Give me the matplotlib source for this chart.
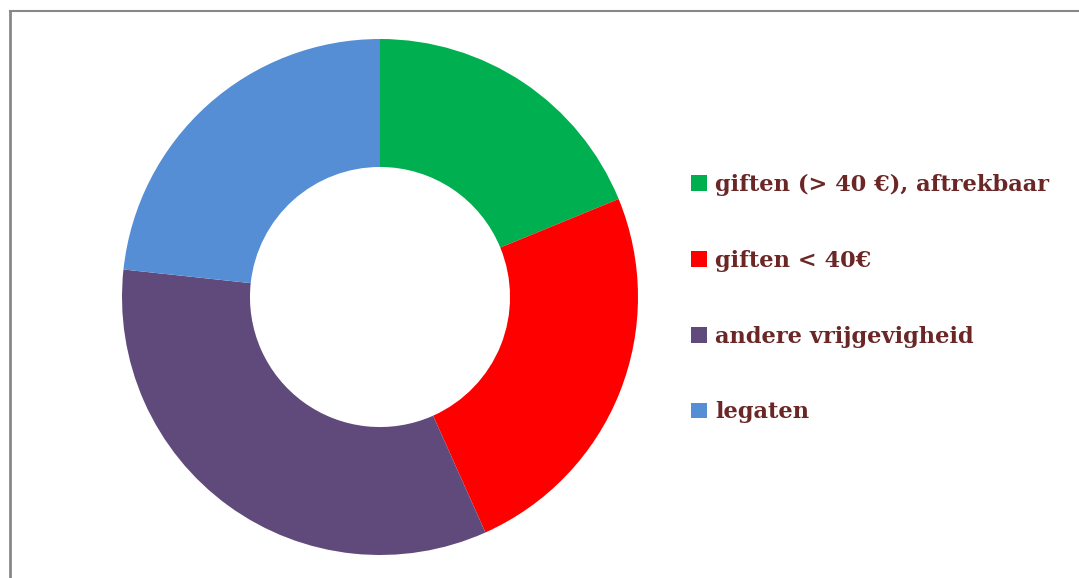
import matplotlib
matplotlib.use("Agg")
import matplotlib.pyplot as plt
from matplotlib.lines import Line2D

labels = ["giften (> 40 €), aftrekbaar", "giften < 40€", "andere vrijgevigheid", "legaten"]
values = [18.8, 24.5, 33.4, 23.3]
colors = ["#00B050", "#FF0000", "#604A7B", "#558ED5"]

W, H = 1079, 578
fig = plt.figure(figsize=(W / 100, H / 100), dpi=100)
fig.patch.set_facecolor("white")

cx, cy, r = 380, 297, 258
ax = fig.add_axes([(cx - r) / W, 1 - (cy + r) / H, 2 * r / W, 2 * r / H])
wedges, _ = ax.pie(values, colors=colors, startangle=90, counterclock=False,
                   radius=1, wedgeprops=dict(width=0.496, linewidth=0))
ax.set_xlim(-1, 1)
ax.set_ylim(-1, 1)
ax.set_aspect("equal")
ax.axis("off")

# border lines
fig.add_artist(Line2D([9.5 / W, 9.5 / W], [0, 1 - 10.5 / H], transform=fig.transFigure,
                      color="#888888", linewidth=2))
fig.add_artist(Line2D([9.5 / W, 1], [1 - 10.5 / H, 1 - 10.5 / H], transform=fig.transFigure,
                      color="#888888", linewidth=1.5))

leg = fig.legend(wedges, labels, loc="upper left", bbox_to_anchor=(691 / W, 1 - 174 / H),
                 frameon=False, handlelength=0.71, handleheight=0.71, handletextpad=0.36,
                 labelspacing=2.39, borderpad=0, borderaxespad=0,
                 prop=dict(family="DejaVu Serif", weight="bold", size=16.2))
for t in leg.get_texts():
    t.set_color("#6B2626")

fig.savefig("out.png", dpi=100)
